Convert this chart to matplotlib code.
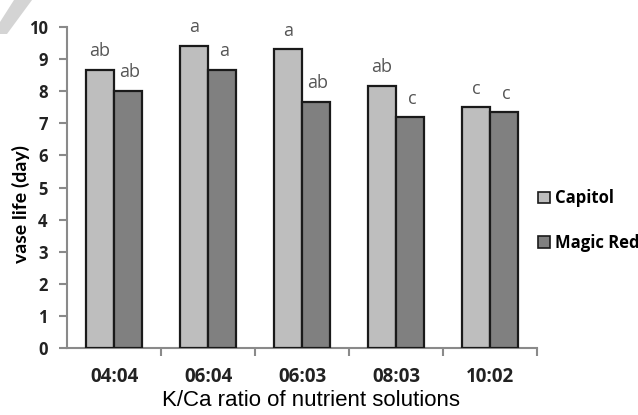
import numpy as np
import matplotlib
matplotlib.use("Agg")
import matplotlib.pyplot as plt
from matplotlib.patches import Polygon, Rectangle

# K/Ca ratio treatments and mean vase life (days) per cultivar
ratios = ["04:04", "06:04", "06:03", "08:03", "10:02"]
capitol = [8.66, 9.42, 9.31, 8.16, 7.50]
magic_red = [8.02, 8.66, 7.67, 7.19, 7.34]
capitol_letters = ["ab", "a", "a", "ab", "c"]
magic_red_letters = ["ab", "a", "ab", "c", "c"]
series_names = ["Capitol", "Magic Red"]

fig = plt.figure(figsize=(6.38, 4.15), dpi=100)
ax = fig.add_axes([0.105, 0.1614, 0.737, 0.7735])

x = np.arange(len(ratios))
w = 0.3
light = "#bebebe"
dark = "#808080"
edge = "#1a1a1a"

ax.bar(x - w / 2, capitol, w, color=light, edgecolor=edge, linewidth=1.6, zorder=3)
ax.bar(x + w / 2, magic_red, w, color=dark, edgecolor=edge, linewidth=1.6, zorder=3)

letter_font = dict(fontsize=13, color="#555555", ha="center", va="bottom",
                   family="Open Sans")
for xi, v, t in zip(x - w / 2, capitol, capitol_letters):
    ax.text(xi, v + 0.3, t, **letter_font)
for xi, v, t in zip(x + w / 2, magic_red, magic_red_letters):
    ax.text(xi + 0.02, v + 0.3, t, **letter_font)

ax.set_xlim(-0.5, len(ratios) - 0.5)
ax.set_ylim(0, 10)
ax.set_yticks(np.arange(0, 11, 1))
ax.set_xticks(x)
ax.set_xticklabels(ratios)
ax.set_xticks(np.arange(0.5, len(ratios), 1), minor=True)

for s in ["top", "right"]:
    ax.spines[s].set_visible(False)
for s in ["left", "bottom"]:
    ax.spines[s].set_color("#8a8a8a")
    ax.spines[s].set_linewidth(1.5)

ax.tick_params(axis="y", which="major", length=6, width=1.5, color="#8a8a8a",
               direction="out", pad=8, labelsize=12)
ax.tick_params(axis="x", which="major", length=0, pad=14, labelsize=13.5)
ax.tick_params(axis="x", which="minor", length=6, width=1.5, color="#8a8a8a",
               direction="out")
for lab in ax.get_yticklabels() + ax.get_xticklabels():
    lab.set_fontweight("bold")
    lab.set_family("Open Sans")
    lab.set_color("#222222")

ax.set_ylabel("vase life (day)", fontsize=14, fontweight="bold", family="Lato")
ax.yaxis.set_label_coords(-0.079, 0.45)
ax.set_xlabel("K/Ca ratio of nutrient solutions", fontsize=16,
              family="Liberation Sans", va="center")
ax.xaxis.set_label_coords(0.519, -0.165)

handles = [Rectangle((0, 0), 1, 1, facecolor=light, edgecolor=edge, linewidth=1.2),
           Rectangle((0, 0), 1, 1, facecolor=dark, edgecolor=edge, linewidth=1.2)]
fig.legend(handles, series_names, loc="upper left", bbox_to_anchor=(0.82, 0.58),
           frameon=False, handlelength=0.7, handleheight=0.7, handletextpad=0.3,
           labelspacing=1.6, prop=dict(family="Open Sans", weight="bold", size=12))

# grey corner ribbon
fig.patches.append(Polygon([(14 / 638, 1), (32 / 638, 1), (7 / 638, 1 - 34 / 415),
                            (0, 1 - 34 / 415), (0, 1 - 22 / 415)],
                           closed=True, transform=fig.transFigure,
                           facecolor="#d4d4d4", edgecolor="none"))

fig.savefig("out.png", dpi=100)
